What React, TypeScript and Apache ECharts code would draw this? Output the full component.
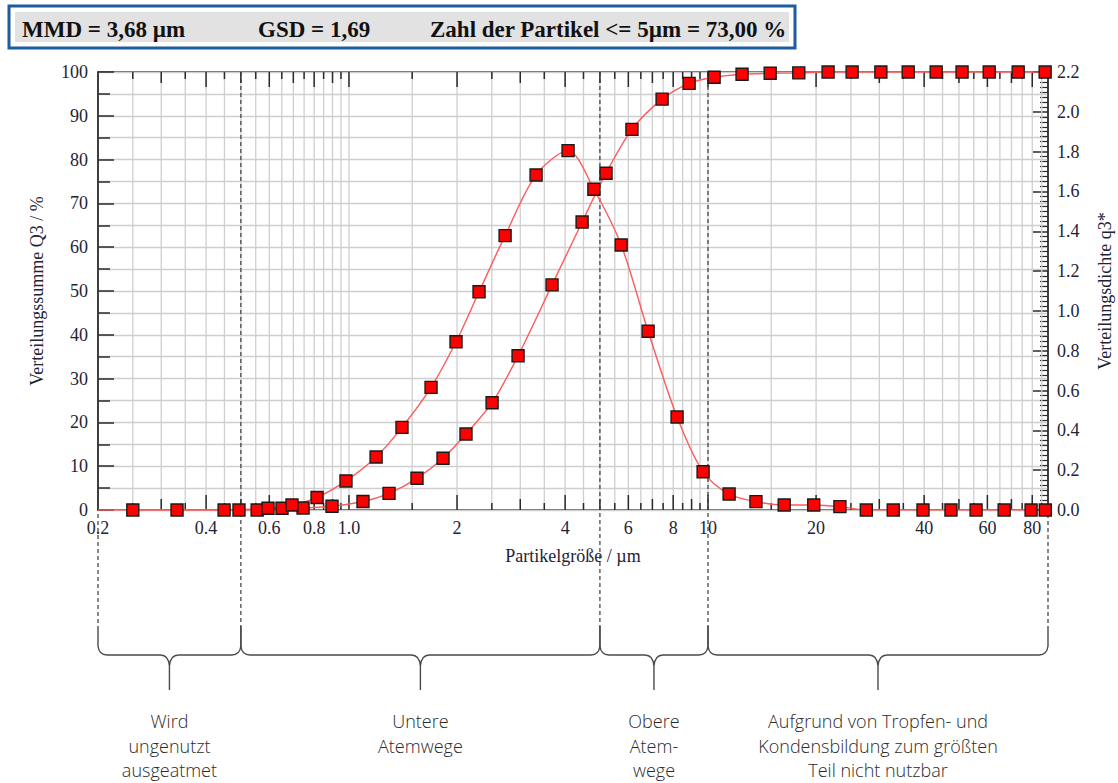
import React, { useEffect, useRef } from 'react';
import * as echarts from 'echarts';

// ---------- data ----------
const X_MIN = 0.2;
const X_MAX = 88.5;

// density q3* (right axis)
const densitySizes = [0.25, 0.449, 0.595, 0.694, 0.815, 0.981, 1.19, 1.405, 1.693, 1.987, 2.303, 2.722, 3.32, 4.076, 4.81, 5.73, 6.81, 8.2, 9.69, 11.45, 13.6, 16.3, 19.7, 23.3, 27.6, 32.8, 39.7, 47.5, 55.8, 66.8, 79.4, 87.0];
const densityValues = [0, 0, 0.009, 0.025, 0.063, 0.146, 0.266, 0.415, 0.616, 0.845, 1.096, 1.378, 1.683, 1.805, 1.611, 1.331, 0.898, 0.467, 0.192, 0.08, 0.042, 0.025, 0.025, 0.017, 0, 0, 0, 0, 0, 0, 0, 0];

// cumulative Q3 (left axis)
const cumulativeSizes = [0.2, 0.332, 0.494, 0.555, 0.651, 0.745, 0.897, 1.094, 1.293, 1.547, 1.828, 2.118, 2.504, 2.958, 3.678, 4.46, 5.2, 6.14, 7.45, 8.86, 10.4, 12.44, 14.9, 17.9, 21.6, 25.2, 30.3, 36.1, 43.2, 51.0, 60.7, 73.1, 86.9];
const cumulativeValues = [0, 0, 0, 0, 0.4, 0.46, 0.85, 1.94, 3.8, 7.24, 11.8, 17.35, 24.5, 35.2, 51.4, 65.75, 76.9, 86.9, 93.8, 97.4, 98.8, 99.5, 99.7, 99.8, 100, 100, 100, 100, 100, 100, 100, 100, 100];

// x tick labels
const xTickValues = [0.2, 0.4, 0.6, 0.8, 1, 2, 4, 6, 8, 10, 20, 40, 60, 80];
const xTickLabels = ['0.2', '0.4', '0.6', '0.8', '1.0', '2', '4', '6', '8', '10', '20', '40', '60', '80'];

// x grid: per decade unit and half steps
const gridDecades = [0.1, 1, 10];

// regions
const regionBounds = [0.2, 0.5, 5, 10, X_MAX];
const regionLabels = [
  'Wird\nungenutzt\nausgeatmet',
  'Untere\nAtemwege',
  'Obere\nAtem-\nwege',
  'Aufgrund von Tropfen- und\nKondensbildung zum größten\nTeil nicht nutzbar',
];

const headerTexts = ['MMD = 3,68 µm', 'GSD = 1,69', 'Zahl der Partikel <= 5µm = 73,00 %'];

// ---------- helpers ----------
const lg = (v: number) => Math.log10(v);
const SERIF = '"Liberation Serif", "Times New Roman", serif';
const GRID_COLOR = '#cfcfcf';
const AXIS_COLOR = '#333333';
const LABEL_COLOR = '#1e2436';

function buildGridData() {
  const out: number[][] = [];
  gridDecades.forEach((unit) => {
    for (let k = 2; k <= 19; k++) {
      const v = +(unit * k * 0.5).toFixed(6);
      if (v <= X_MIN + 1e-9 || v >= X_MAX) continue;
      if (unit === 0.1 && v >= 1) continue;
      if (unit === 1 && v >= 10) continue;
      const isLabeled = xTickValues.some((t) => Math.abs(t - v) < 1e-9);
      const isInt = Math.abs(v / unit - Math.round(v / unit)) < 1e-9;
      const len = isLabeled ? 15 : isInt ? 11 : 7;
      out.push([lg(v), len]);
    }
  });
  return out;
}

export default function App() {
  const ref = useRef<HTMLDivElement>(null);

  useEffect(() => {
    if (!ref.current) return;
    const chart = echarts.init(ref.current, undefined, { renderer: 'svg' });

    const gridData = buildGridData();
    const labelData = xTickValues.map((v, i) => [lg(v), i]);
    const regionData = regionBounds.slice(0, -1).map((b, i) => [lg(b), lg(regionBounds[i + 1]), i]);
    const xMinL = lg(X_MIN);
    const xMaxL = lg(X_MAX);

    const renderGrid = (params: any, api: any) => {
      const lv = api.value(0);
      const len = api.value(1);
      const pb = api.coord([lv, 0]);
      const pt = api.coord([lv, 100]);
      const tickStyle = { stroke: '#2a2a2a', lineWidth: 1.5 };
      return {
        type: 'group',
        children: [
          { type: 'line', shape: { x1: pb[0], y1: pb[1], x2: pb[0], y2: pt[1] }, style: { stroke: GRID_COLOR, lineWidth: 1.3 } },
          { type: 'line', shape: { x1: pb[0], y1: pb[1], x2: pb[0], y2: pb[1] - len }, style: tickStyle },
          { type: 'line', shape: { x1: pb[0], y1: pt[1], x2: pb[0], y2: pt[1] + len }, style: tickStyle },
        ],
      };
    };

    const renderLabels = (params: any, api: any) => {
      const lv = api.value(0);
      const idx = api.value(1);
      const p = api.coord([lv, 0]);
      return {
        type: 'text',
        x: p[0],
        y: p[1] + 18,
        style: {
          text: xTickLabels[idx],
          fill: LABEL_COLOR,
          font: `18px ${SERIF}`,
          align: 'center',
          verticalAlign: 'middle',
        },
      };
    };

    const renderRegions = (params: any, api: any) => {
      const lo = api.value(0);
      const hi = api.value(1);
      const idx = api.value(2);
      const pLo = api.coord([lo, 0]);
      const pHi = api.coord([hi, 0]);
      const top = api.coord([lo, 100])[1];
      const bottom = pLo[1];
      const x0 = pLo[0];
      const x1 = pHi[0];
      const xm = (x0 + x1) / 2;
      const yTop = 626;
      const yH = 655;
      const yTip = 690;
      const r = 9;
      const children: any[] = [];
      const dashStyle = { stroke: '#3a3a3a', lineWidth: 1.2, lineDash: [4, 3] };
      const addDash = (lv: number, x: number) => {
        const inner = lv > xMinL + 1e-6 && lv < xMaxL - 1e-6;
        children.push({
          type: 'line',
          shape: { x1: x, y1: inner ? top : bottom + 4, x2: x, y2: yTop },
          style: dashStyle,
        });
      };
      addDash(lo, x0);
      if (idx === regionBounds.length - 2) addDash(hi, x1);
      const d =
        `M ${x0} ${yTop} L ${x0} ${yH - r} Q ${x0 + 1} ${yH} ${x0 + r} ${yH} ` +
        `L ${xm - r} ${yH} Q ${xm - 1} ${yH} ${xm} ${yH + r + 2} L ${xm} ${yTip} ` +
        `M ${xm} ${yH + r + 2} Q ${xm + 1} ${yH} ${xm + r} ${yH} ` +
        `L ${x1 - r} ${yH} Q ${x1 - 1} ${yH} ${x1} ${yH - r} L ${x1} ${yTop}`;
      children.push({
        type: 'path',
        shape: { pathData: d },
        style: { fill: 'none', stroke: '#4a4a4a', lineWidth: 1.4 },
      });
      children.push({
        type: 'text',
        x: xm,
        y: 709,
        style: {
          text: regionLabels[idx],
          fill: '#2b2b2b',
          font: '300 18px "Open Sans", "Noto Sans", sans-serif',
          align: 'center',
          verticalAlign: 'top',
          lineHeight: 24.5,
        },
      });
      return { type: 'group', children };
    };

    const symbolStyle = { color: '#ff0000', borderColor: '#1a1a1a', borderWidth: 1.4 };
    const lineStyle = { color: '#ff5a5a', width: 1.4 };

    const option: any = {
      animation: false,
      backgroundColor: '#ffffff',
      grid: {
        left: 98,
        top: 72,
        width: 950,
        height: 438,
        show: true,
        containLabel: false,
        outerBoundsMode: 'none',
        borderColor: AXIS_COLOR,
        borderWidth: 1.5,
        backgroundColor: 'transparent',
      },
      xAxis: {
        type: 'value',
        min: xMinL,
        max: xMaxL,
        axisLine: { show: false, onZero: false },
        axisTick: { show: false },
        axisLabel: { show: false },
        splitLine: { show: false },
        name: 'Partikelgröße / µm',
        nameLocation: 'middle',
        nameGap: 37,
        nameTextStyle: { fontFamily: SERIF, fontSize: 18, color: LABEL_COLOR },
      },
      yAxis: [
        {
          type: 'value',
          min: 0,
          max: 100,
          interval: 10,
          position: 'left',
          axisLine: { show: true, onZero: false, lineStyle: { color: AXIS_COLOR, width: 1.5 } },
          axisTick: { show: true, inside: true, length: 16, lineStyle: { color: '#2a2a2a', width: 1.5 } },
          minorTick: { show: true, splitNumber: 2, length: 12, lineStyle: { color: '#2a2a2a', width: 1.5 } },
          splitLine: { show: true, lineStyle: { color: GRID_COLOR, width: 1.3 } },
          minorSplitLine: { show: true, lineStyle: { color: GRID_COLOR, width: 1.3 } },
          axisLabel: { margin: 10, fontSize: 18, fontFamily: SERIF, color: LABEL_COLOR },
          name: 'Verteilungssumme Q3 / %',
          nameLocation: 'middle',
          nameRotate: 90,
          nameGap: 52,
          nameTextStyle: { fontFamily: SERIF, fontSize: 18, color: LABEL_COLOR },
        },
        {
          type: 'value',
          min: 0,
          max: 2.2,
          interval: 0.2,
          position: 'right',
          axisLine: { show: true, onZero: false, lineStyle: { color: AXIS_COLOR, width: 1.5 } },
          axisTick: { show: true, inside: true, length: 15, lineStyle: { color: '#2a2a2a', width: 1.5 } },
          minorTick: { show: true, splitNumber: 8, length: 8, lineStyle: { color: '#2a2a2a', width: 1.2 } },
          splitLine: { show: false },
          axisLabel: {
            margin: 9,
            fontSize: 18,
            fontFamily: SERIF,
            color: LABEL_COLOR,
            formatter: (v: number) => v.toFixed(1),
          },
          name: 'Verteilungsdichte q3*',
          nameLocation: 'middle',
          nameRotate: 90,
          nameGap: 48,
          nameTextStyle: { fontFamily: SERIF, fontSize: 18, color: LABEL_COLOR },
        },
      ],
      graphic: [
        {
          type: 'rect',
          shape: { x: 9, y: 6, width: 786, height: 42 },
          style: { fill: '#ffffff', stroke: '#1f5c9e', lineWidth: 3 },
        },
        {
          type: 'rect',
          shape: { x: 15, y: 12, width: 774, height: 30 },
          style: { fill: '#e2e2e2' },
        },
        ...headerTexts.map((t, i) => ({
          type: 'text',
          x: [22, 258, 430][i],
          y: 29,
          style: {
            text: t,
            fill: '#111111',
            font: `bold 23px ${SERIF}`,
            textVerticalAlign: 'middle',
          },
        })),
      ],
      series: [
        {
          type: 'custom',
          name: 'xgrid',
          z: 1,
          silent: true,
          clip: false,
          data: gridData,
          renderItem: renderGrid,
        },
        {
          type: 'custom',
          name: 'xlabels',
          z: 1,
          silent: true,
          clip: false,
          data: labelData,
          renderItem: renderLabels,
        },
        {
          type: 'custom',
          name: 'regions',
          z: 2,
          silent: true,
          clip: false,
          data: regionData,
          renderItem: renderRegions,
        },
        {
          type: 'line',
          name: 'Q3',
          yAxisIndex: 0,
          z: 3,
          smooth: 0.3,
          symbol: 'rect',
          symbolSize: 12,
          itemStyle: symbolStyle,
          lineStyle,
          data: cumulativeSizes.map((s, i) =>
            i === 0 ? { value: [lg(s), cumulativeValues[i]], symbol: 'none' } : [lg(s), cumulativeValues[i]]
          ),
        },
        {
          type: 'line',
          name: 'q3*',
          yAxisIndex: 1,
          z: 3,
          smooth: 0.3,
          symbol: 'rect',
          symbolSize: 12,
          itemStyle: symbolStyle,
          lineStyle,
          data: densitySizes.map((s, i) => [lg(s), densityValues[i]]),
        },
      ],
    };

    chart.setOption(option);
    return () => chart.dispose();
  }, []);

  return (
    <div
      ref={ref}
      style={{ position: 'fixed', left: 0, top: 0, width: 1118, height: 783, background: '#fff' }}
    />
  );
}
